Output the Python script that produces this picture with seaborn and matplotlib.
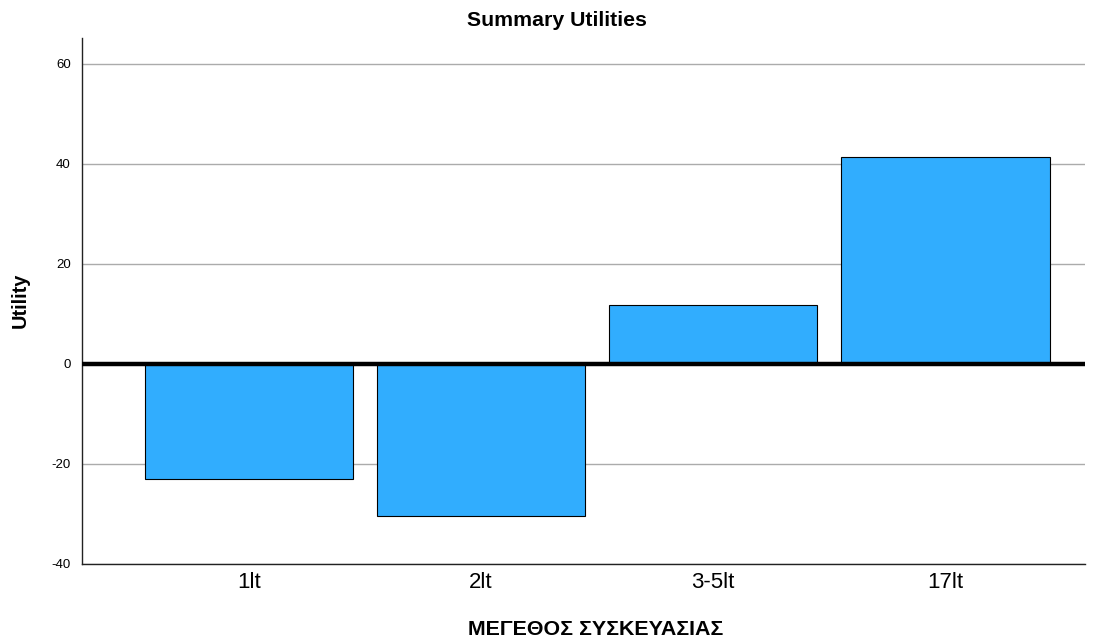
import matplotlib
matplotlib.use("Agg")
import matplotlib.pyplot as plt
import seaborn as sns
import pandas as pd

categories = ["1lt", "2lt", "3-5lt", "17lt"]
utilities = [-23.0, -30.4, 11.8, 41.4]

sns.set_theme(style="white")
plt.rcParams["font.family"] = ["Liberation Sans", "DejaVu Sans"]
plt.rcParams["axes.unicode_minus"] = False
plt.rcParams["text.color"] = "black"
plt.rcParams["xtick.color"] = "black"
plt.rcParams["ytick.color"] = "black"

df = pd.DataFrame({"size": categories, "utility": utilities})

W, H = 1113, 639
fig = plt.figure(figsize=(W / 100, H / 100), dpi=100)
ax = fig.add_axes([82 / W, 75 / H, 1003 / W, 526 / H])

ax.set_axisbelow(True)
ax.yaxis.grid(True, color="#ababab", linewidth=1.0)
ax.xaxis.grid(False)

sns.barplot(data=df, x="size", y="utility", order=categories, color="#31adfe",
            saturation=1, width=0.9, edgecolor="black", linewidth=0.8, ax=ax)

ax.axhline(0, color="black", linewidth=3.2, zorder=5)

ax.set_xlim(-0.72, 3.603)
ax.set_ylim(-40, 65.2)
ax.set_yticks([-40, -20, 0, 20, 40, 60])
ax.tick_params(axis="y", labelsize=9.5, length=0, pad=8)
ax.tick_params(axis="x", labelsize=16, length=0, pad=6)

for side in ["top", "right"]:
    ax.spines[side].set_visible(False)
for side in ["left", "bottom"]:
    ax.spines[side].set_color("#222222")
    ax.spines[side].set_linewidth(1.0)

ax.set_xlabel("")
ax.set_ylabel("")

fig.text(0.5, 1 - 26 / H, "Summary Utilities", ha="center", va="baseline",
         fontsize=15.3, fontweight="bold")
fig.text(595.5 / W, 4 / H, "ΜΕΓΕΘΟΣ ΣΥΣΚΕΥΑΣΙΑΣ", ha="center", va="baseline",
         fontsize=15.4, fontweight="bold")
fig.text(20 / W, 1 - 300.5 / H, "Utility", ha="center", va="center",
         rotation=90, fontsize=14.4, fontweight="bold")

fig.savefig("out.png", dpi=100)
